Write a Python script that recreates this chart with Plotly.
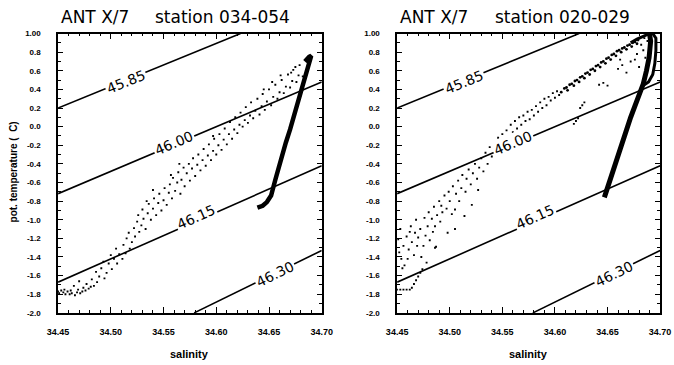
import plotly.graph_objects as go

# ---------------- data ----------------
titles_cruise = ["ANT X/7", "ANT X/7"]
titles_station = ["station 034-054", "station 020-029"]

x_ticks = [34.45, 34.50, 34.55, 34.60, 34.65, 34.70]
x_ticktext = ["34.45", "34.50", "34.55", "34.60", "34.65", "34.70"]
y_ticks = [1.0, 0.8, 0.6, 0.4, 0.2, 0.0, -0.2, -0.4, -0.6, -0.8, -1.0, -1.2, -1.4, -1.6, -1.8, -2.0]
y_ticktext = ["1.00", "0.8", "0.6", "0.4", "0.2", "0.0", "-0.2", "-0.4", "-0.6", "-0.8",
              "-1.0", "-1.2", "-1.4", "-1.6", "-1.8", "-2.0"]

# isopycnal lines (sigma-2), end points
iso_labels = ["45.85", "46.00", "46.15", "46.30"]
iso_s = [[34.45, 34.623], [34.45, 34.70], [34.45, 34.70], [34.579, 34.70]]
iso_t = [[0.20, 1.00], [-0.72, 0.48], [-1.67, -0.42], [-2.00, -1.33]]
iso_label_s = [34.514, 34.560, 34.581, 34.656]
iso_label_t = [0.48, -0.18, -0.97, -1.58]
iso_label_angle = [-22, -23, -24, -26]

# left panel: deep water core (dense trace)
coreL_s = [34.639, 34.644, 34.648, 34.652, 34.656, 34.661, 34.666, 34.670, 34.675, 34.680, 34.684, 34.686, 34.689, 34.690, 34.688, 34.684]
coreL_t = [-0.87, -0.85, -0.81, -0.74, -0.57, -0.36, -0.17, -0.03, 0.16, 0.34, 0.52, 0.60, 0.70, 0.76, 0.75, 0.70]

# left panel: scattered samples
cloudL_s = [34.450, 34.451, 34.453, 34.455, 34.457, 34.459, 34.461, 34.463, 34.466, 34.468,
            34.471, 34.473, 34.476, 34.479, 34.481, 34.484, 34.456, 34.462, 34.469, 34.474,
            34.477, 34.470, 34.465, 34.482, 34.487, 34.489, 34.486, 34.491, 34.494, 34.496,
            34.498, 34.493, 34.501, 34.503, 34.500, 34.506, 34.508, 34.505, 34.511, 34.512,
            34.514, 34.515, 34.518, 34.517, 34.520, 34.522, 34.523, 34.525, 34.527, 34.526,
            34.529, 34.531, 34.530, 34.533, 34.535, 34.536, 34.538, 34.540, 34.541, 34.543,
            34.545, 34.546, 34.548, 34.550, 34.551, 34.553, 34.555, 34.556, 34.558, 34.559,
            34.561, 34.563, 34.564, 34.566, 34.567, 34.569, 34.570, 34.572, 34.574, 34.575,
            34.577, 34.578, 34.580, 34.582, 34.583, 34.585, 34.587, 34.588, 34.590, 34.592,
            34.593, 34.595, 34.597, 34.598, 34.600, 34.602, 34.603, 34.605, 34.607, 34.608,
            34.610, 34.612, 34.613, 34.615, 34.617, 34.618, 34.620, 34.622, 34.623, 34.625,
            34.627, 34.628, 34.630, 34.632, 34.633, 34.635, 34.637, 34.639, 34.641, 34.643,
            34.644, 34.646, 34.648, 34.650, 34.652, 34.654, 34.656, 34.658, 34.660, 34.662,
            34.664, 34.666, 34.668, 34.670, 34.672, 34.673, 34.676, 34.678, 34.679, 34.682,
            34.675, 34.671, 34.661, 34.653, 34.645, 34.540, 34.565, 34.597, 34.534, 34.557]
cloudL_t = [-1.77, -1.79, -1.76, -1.78, -1.80, -1.77, -1.80, -1.79, -1.81, -1.78,
            -1.79, -1.77, -1.76, -1.74, -1.72, -1.71, -1.75, -1.76, -1.75, -1.73,
            -1.69, -1.66, -1.71, -1.64, -1.67, -1.61, -1.56, -1.52, -1.63, -1.57,
            -1.47, -1.45, -1.53, -1.42, -1.38, -1.47, -1.37, -1.31, -1.42, -1.27,
            -1.36, -1.20, -1.31, -1.14, -1.24, -1.09, -1.18, -1.02, -1.13, -0.95,
            -1.06, -0.99, -0.89, -1.10, -0.93, -0.83, -1.00, -0.88, -0.77, -0.95,
            -0.82, -0.72, -0.90, -0.79, -0.66, -0.84, -0.71, -0.62, -0.77, -0.55,
            -0.69, -0.60, -0.49, -0.72, -0.57, -0.44, -0.64, -0.50, -0.40, -0.58,
            -0.45, -0.34, -0.53, -0.41, -0.30, -0.47, -0.36, -0.24, -0.42, -0.31,
            -0.19, -0.36, -0.26, -0.13, -0.30, -0.20, -0.08, -0.25, -0.14, -0.02,
            -0.19, -0.08, 0.05, -0.13, -0.03, 0.10, -0.07, 0.02, 0.15, 0.00,
            0.07, 0.21, 0.04, 0.12, 0.26, 0.09, 0.17, 0.30, 0.13, 0.22,
            0.35, 0.18, 0.27, 0.40, 0.23, 0.32, 0.45, 0.30, 0.37, 0.50,
            0.36, 0.43, 0.56, 0.42, 0.49, 0.61, 0.48, 0.55, 0.66, 0.54,
            0.64, 0.58, 0.55, 0.48, 0.40, -0.68, -0.40, -0.10, -0.80, -0.52]

# right panel: deep water core
coreR_s = [34.647, 34.651, 34.655, 34.660, 34.664, 34.668, 34.672, 34.676, 34.680, 34.684, 34.687, 34.6895, 34.691, 34.690]
coreR_t = [-0.76, -0.62, -0.46, -0.30, -0.14, -0.02, 0.10, 0.22, 0.34, 0.46, 0.60, 0.74, 0.92, 0.99]
# right panel: warm loop at the top
loopR_s = [34.672, 34.678, 34.684, 34.689, 34.693, 34.696, 34.696, 34.695, 34.693, 34.689, 34.685]
loopR_t = [0.90, 0.94, 0.97, 0.995, 1.00, 0.95, 0.82, 0.68, 0.56, 0.48, 0.45]

# right panel: dense band of samples below the warm loop
bandR_s = [34.606, 34.609, 34.611, 34.614, 34.616, 34.619, 34.621, 34.624, 34.626, 34.629,
           34.631, 34.634, 34.636, 34.639, 34.641, 34.644, 34.646, 34.649, 34.651, 34.654,
           34.656, 34.659, 34.661, 34.664, 34.666, 34.669, 34.671, 34.674, 34.676, 34.679,
           34.612, 34.618, 34.623, 34.628, 34.633, 34.638, 34.643, 34.648, 34.653, 34.658,
           34.663, 34.668, 34.673, 34.678]
bandR_t = [0.37, 0.41, 0.42, 0.45, 0.46, 0.49, 0.50, 0.53, 0.54, 0.57,
           0.58, 0.61, 0.62, 0.65, 0.66, 0.69, 0.70, 0.73, 0.74, 0.77,
           0.78, 0.81, 0.82, 0.84, 0.85, 0.87, 0.88, 0.90, 0.91, 0.93,
           0.39, 0.44, 0.48, 0.52, 0.56, 0.60, 0.64, 0.68, 0.72, 0.76,
           0.80, 0.83, 0.86, 0.89]

cloudR_s = [34.450, 34.453, 34.456, 34.459, 34.462, 34.464, 34.466, 34.468, 34.470, 34.472, 34.474,
            34.451, 34.452, 34.454, 34.455, 34.453, 34.456, 34.457, 34.459, 34.460, 34.461,
            34.462, 34.463, 34.464, 34.466, 34.467, 34.468, 34.469, 34.470, 34.472, 34.473,
            34.475, 34.476, 34.477, 34.478, 34.479, 34.480, 34.481, 34.483, 34.484, 34.485,
            34.486, 34.486, 34.487, 34.488, 34.490, 34.491, 34.492, 34.493, 34.495, 34.497,
            34.498, 34.499, 34.500, 34.502, 34.503, 34.505, 34.505, 34.506, 34.508, 34.509,
            34.511, 34.512, 34.514, 34.515, 34.516, 34.518, 34.520, 34.521, 34.522, 34.524,
            34.526, 34.527, 34.528, 34.530, 34.532, 34.534, 34.536, 34.538, 34.540, 34.542,
            34.544, 34.546, 34.548, 34.550, 34.552, 34.554, 34.556, 34.558, 34.560, 34.562,
            34.564, 34.566, 34.568, 34.570, 34.572, 34.574, 34.576, 34.578, 34.580, 34.582,
            34.584, 34.586, 34.588, 34.590, 34.592, 34.594, 34.596, 34.598, 34.600, 34.602,
            34.604,
            34.626, 34.628, 34.624, 34.620, 34.622, 34.618, 34.642, 34.646, 34.650, 34.660,
            34.664, 34.668, 34.672, 34.676, 34.680, 34.678, 34.684, 34.686, 34.662, 34.682,
            34.688, 34.685]
cloudR_t = [-1.75, -1.75, -1.75, -1.75, -1.75, -1.73, -1.69, -1.65, -1.61, -1.57, -1.53,
            -1.21, -1.35, -1.42, -1.52, -1.10, -1.28, -1.49, -1.18, -1.42, -1.32,
            -1.13, -1.07, -1.24, -1.38, -1.14, -1.00, -1.28, -1.19, -1.10, -1.40,
            -1.28, -0.98, -1.17, -1.46, -1.07, -0.92, -1.22, -0.99, -1.13, -0.86,
            -1.07, -1.30, -1.29, -0.95, -0.80, -1.02, -0.85, -0.92, -0.74, -0.88,
            -1.14, -0.70, -0.80, -0.94, -0.64, -0.89, -1.10, -0.72, -0.58, -0.80,
            -0.66, -0.52, -0.96, -0.70, -0.56, -0.46, -0.62, -0.84, -0.50, -0.40,
            -0.56, -0.68, -0.44, -0.34, -0.48, -0.28, -0.40, -0.22, -0.32, -0.18,
            -0.26, -0.12, -0.30, -0.08, -0.18, -0.04, -0.12, 0.02, -0.06, 0.06,
            -0.02, 0.10, 0.02, 0.12, 0.06, 0.16, 0.08, 0.18, 0.12, 0.22,
            0.16, 0.26, 0.20, 0.30, 0.23, 0.32, 0.28, 0.36, 0.31, 0.38,
            0.34,
            0.23, 0.26, 0.20, 0.06, 0.09, 0.03, 0.45, 0.47, 0.44, 0.62,
            0.66, 0.58, 0.70, 0.72, 0.64, 0.78, 0.82, 0.74, 0.72, 0.88,
            0.92, 0.95]

# ---------------- figure ----------------
FONT = "DejaVu Sans"
W, H = 674, 365
# layout positions (in reference pixels) are mapped with a slight outward
# stretch about the page centre
SX, SY = 0.97, 0.98


def px(xp):
    return (W / 2 + (xp - W / 2) / SX) / W


def py(yp):
    return 1 - (H / 2 + (yp - H / 2) / SY) / H


fig = go.Figure()

panels = [
    dict(xa="x", ya="y", core=(coreL_s, coreL_t), cloud=(cloudL_s, cloudL_t), loop=None, band=None, core_w=4.5),
    dict(xa="x2", ya="y2", core=(coreR_s, coreR_t), cloud=(cloudR_s, cloudR_t), loop=(loopR_s, loopR_t),
         band=(bandR_s, bandR_t), core_w=5),
]

for p in panels:
    for i in range(len(iso_labels)):
        fig.add_trace(go.Scatter(x=iso_s[i], y=iso_t[i], mode="lines",
                                 line=dict(color="black", width=1.6),
                                 xaxis=p["xa"], yaxis=p["ya"], showlegend=False, hoverinfo="skip"))
    fig.add_trace(go.Scatter(x=p["cloud"][0], y=p["cloud"][1], mode="markers",
                             marker=dict(color="black", size=1.9, symbol="square"),
                             xaxis=p["xa"], yaxis=p["ya"], showlegend=False))
    if p["band"] is not None:
        fig.add_trace(go.Scatter(x=p["band"][0], y=p["band"][1], mode="markers",
                                 marker=dict(color="black", size=2.8, symbol="circle"),
                                 xaxis=p["xa"], yaxis=p["ya"], showlegend=False))
    fig.add_trace(go.Scatter(x=p["core"][0], y=p["core"][1], mode="lines",
                             line=dict(color="black", width=p["core_w"]),
                             xaxis=p["xa"], yaxis=p["ya"], showlegend=False))
    if p["loop"] is not None:
        fig.add_trace(go.Scatter(x=p["loop"][0], y=p["loop"][1], mode="lines",
                                 line=dict(color="black", width=3),
                                 xaxis=p["xa"], yaxis=p["ya"], showlegend=False))
    for i in range(len(iso_labels)):
        fig.add_annotation(x=iso_label_s[i], y=iso_label_t[i], xref=p["xa"], yref=p["ya"],
                           text=iso_labels[i], showarrow=False, textangle=iso_label_angle[i],
                           bgcolor="white", borderpad=1,
                           font=dict(family=FONT, size=14, color="black"))

axis_common = dict(showline=True, linecolor="black", linewidth=1.5, mirror="allticks",
                   ticks="inside", tickcolor="black", showgrid=False, zeroline=False)

x_domains = [[px(57.3), px(321.7)], [px(397.3), px(661.0)]]
y_domain = [py(314.0), py(33.3)]

for k, xa in enumerate(["xaxis", "xaxis2"]):
    fig.layout[xa] = dict(axis_common, domain=x_domains[k], range=[34.45, 34.70],
                          tickvals=x_ticks, ticktext=x_ticktext, ticklen=6, tickwidth=1.3,
                          anchor="y" if k == 0 else "y2",
                          minor=dict(dtick=0.01, ticks="inside", ticklen=3, tickcolor="black", tickwidth=1),
                          tickfont=dict(family="Liberation Sans", size=9, color="black", weight="bold"),
                          ticklabelstandoff=10)
for k, ya in enumerate(["yaxis", "yaxis2"]):
    fig.layout[ya] = dict(axis_common, domain=y_domain, range=[-2.0, 1.0],
                          tickvals=y_ticks, ticktext=y_ticktext, ticklen=5, tickwidth=1.3,
                          anchor="x" if k == 0 else "x2",
                          minor=dict(dtick=0.1, ticks="inside", ticklen=3, tickcolor="black", tickwidth=1),
                          tickfont=dict(family="Liberation Sans", size=8, color="black", weight="bold"),
                          ticklabelstandoff=14)

title_pos = [(58, 152), (398, 493)]
for k in range(2):
    fig.add_annotation(x=px(title_pos[k][0]), y=py(17), xref="paper", yref="paper",
                       xanchor="left", yanchor="middle", showarrow=False, text=titles_cruise[k],
                       font=dict(family=FONT, size=17, color="black"))
    fig.add_annotation(x=px(title_pos[k][1]), y=py(17), xref="paper", yref="paper",
                       xanchor="left", yanchor="middle", showarrow=False, text=titles_station[k],
                       font=dict(family=FONT, size=17, color="black"))
    cx = [189, 529][k]
    fig.add_annotation(x=px(cx), y=py(355), xref="paper", yref="paper", showarrow=False,
                       xanchor="center", yanchor="middle",
                       text="salinity", font=dict(family="Liberation Sans", size=11, color="black", weight="bold"))

fig.add_annotation(x=px(13), y=py(172), xref="paper", yref="paper", showarrow=False, textangle=-90,
                   xanchor="center", yanchor="middle",
                   text="pot. temperature (  C)",
                   font=dict(family="Liberation Sans", size=10, color="black", weight="bold"))

fig.update_layout(width=W, height=H, margin=dict(l=0, r=0, t=0, b=0),
                  paper_bgcolor="white", plot_bgcolor="white", showlegend=False)

fig.write_html("out.html", config={"displayModeBar": False},
               post_script="document.body.style.margin='0';document.body.style.overflow='hidden';")
